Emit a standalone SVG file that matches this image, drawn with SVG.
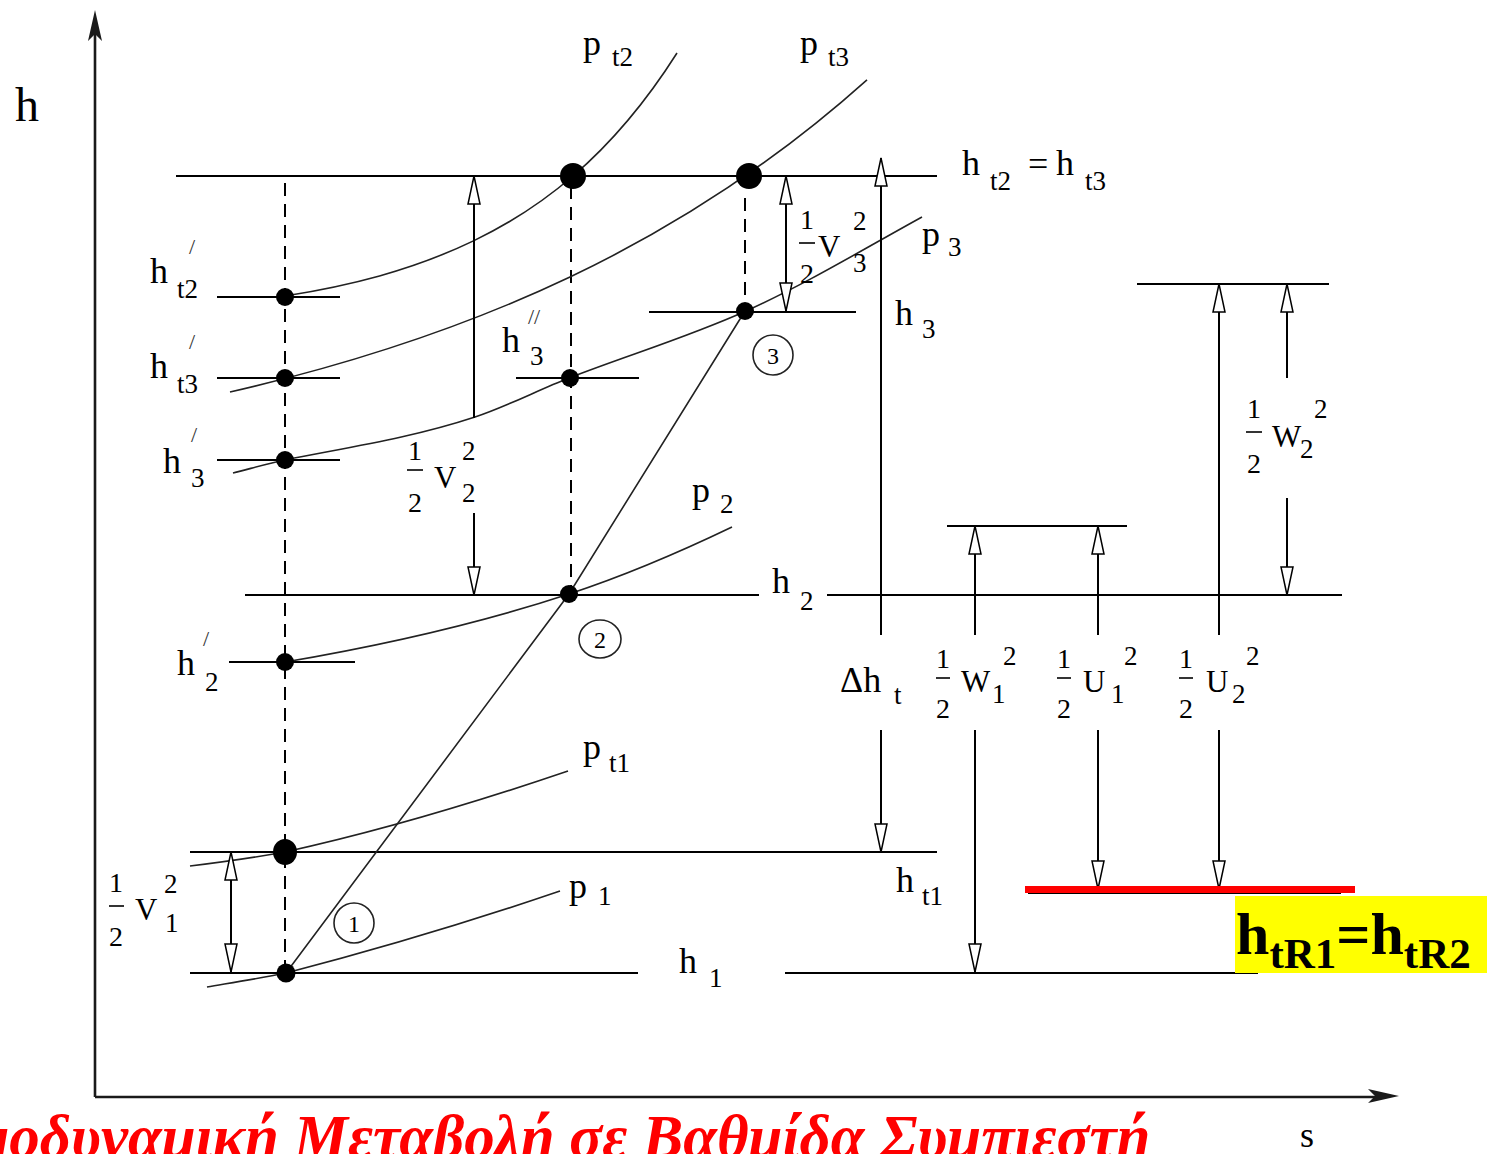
<svg xmlns="http://www.w3.org/2000/svg" width="1487" height="1154" viewBox="0 0 1487 1154">
<style>
.ln{stroke:#000;stroke-width:2;fill:none}
.ax{stroke:#1a1a1a;stroke-width:2.6;fill:none}
.cv{stroke:#222;stroke-width:1.6;fill:none}
.ds{stroke:#000;stroke-width:2;stroke-dasharray:13 8;fill:none}
.ar{stroke:#000;stroke-width:2;fill:none}
.a1{marker-end:url(#ha)}
.a2{marker-start:url(#ha);marker-end:url(#ha)}
.dot{fill:#000}
.cir{fill:none;stroke:#222;stroke-width:1.6}
text{font-family:"Liberation Serif","Times New Roman",serif;fill:#000}
.m{font-size:36px}
.s{font-size:27px}
.f{font-size:28px}
.v{font-size:31px}
.pr{font-size:22px;fill:#333}
.n{font-size:24px}
.c{text-anchor:middle}
</style>
<defs>
<marker id="ha" markerUnits="userSpaceOnUse" markerWidth="34" markerHeight="18" viewBox="-32 -9 34 18" refX="0" refY="0" orient="auto-start-reverse" overflow="visible">
<path d="M0,0 L-28,-6 L-28,6 Z" fill="#fff" stroke="#000" stroke-width="1.5"/>
</marker>
</defs>
<rect width="1487" height="1154" fill="#fff"/>

<g id="axes">
<path class="ax" d="M95,1097 V30 M95,1097 H1380"/>
<path d="M95,10 L102,41 L95,34 L88,41 Z" fill="#1a1a1a"/>
<path d="M1399,1096 L1368,1089 L1375,1096 L1368,1103 Z" fill="#1a1a1a"/>
<text x="15" y="121" style="font-size:48px">h</text>
<text x="1300" y="1147" class="m">s</text>
</g>

<g id="levels">
<path class="ln" d="M176,176 H937"/>
<path class="ln" d="M217,297 H340"/>
<path class="ln" d="M217,378 H340"/>
<path class="ln" d="M217,460 H340"/>
<path class="ln" d="M516,378 H639"/>
<path class="ln" d="M649,312 H856"/>
<path class="ln" d="M245,595 H759 M827,595 H1342"/>
<path class="ln" d="M229,662 H355"/>
<path class="ln" d="M190,852 H937"/>
<path class="ln" d="M190,973 H638 M785,973 H1258"/>
<path class="ln" d="M947,526 H1127"/>
<path class="ln" d="M1137,284 H1329"/>
<path class="ln" d="M1028,893 H1341"/>
</g>

<g id="dashed">
<path class="ds" d="M285,183 V973"/>
<path class="ds" d="M571,186 V594"/>
<path class="ds" d="M745,198 V311"/>
</g>

<g id="isobars">
<path class="cv" d="M285,296 C348,285.9 411,271 474,240.6 C507,224.7 540,204.4 573,176 C607.7,146.2 642.3,107.7 677,53"/>
<path class="cv" d="M230,392 C343.3,365.9 456.7,330.9 570,277 C669,229.9 768,168.5 867,79.8"/>
<path class="cv" d="M233,473 C250.3,468.7 267.7,463.5 285,460 C348.3,447.3 411.7,437.9 475,417 C506.3,406.7 537.7,390.2 569,378 C628,355 687,337.6 746,311 C804.7,284.6 863.3,249.3 922,217"/>
<path class="cv" d="M285,662 C379.7,645.9 474.3,625.2 569,594 C623.3,576.1 677.7,553.1 732,527"/>
<path class="cv" d="M190,866 C221.7,862.2 253.3,857.7 285,852 C379.3,831.2 473.7,803.1 568,771"/>
<path class="cv" d="M207,987 C233.3,982.5 259.7,978.3 286,973 C377.3,949.3 468.7,922.1 560,891"/>
<path class="cv" d="M286,973 L569,594 L745,311"/>
</g>

<g id="points">
<circle class="dot" cx="573" cy="176" r="13"/>
<circle class="dot" cx="749" cy="176" r="13"/>
<ellipse class="dot" cx="285" cy="852" rx="12" ry="13"/>
<circle class="dot" cx="285" cy="297" r="9"/>
<circle class="dot" cx="285" cy="378" r="9"/>
<circle class="dot" cx="285" cy="460" r="9"/>
<circle class="dot" cx="570" cy="378" r="9"/>
<circle class="dot" cx="745" cy="311" r="9"/>
<circle class="dot" cx="569" cy="594" r="9"/>
<circle class="dot" cx="285" cy="662" r="9"/>
<circle class="dot" cx="286" cy="973" r="9.5"/>
<circle class="cir" cx="354" cy="923" r="20"/>
<text x="354" y="932" class="n c">1</text>
<ellipse class="cir" cx="600" cy="639" rx="21" ry="19"/>
<text x="600" y="648" class="n c">2</text>
<circle class="cir" cx="773" cy="355" r="20"/>
<text x="773" y="364" class="n c">3</text>
</g>

<g id="arrows">
<path class="ar a1" d="M474,418 V176"/>
<path class="ar a1" d="M474,513 V595"/>
<path class="ar a2" d="M786,176 V311"/>
<path class="ar a2" d="M231,852 V972"/>
<path class="ar a1" d="M881,635 V158"/>
<path class="ar a1" d="M881,730 V852"/>
<path class="ar a1" d="M975,635 V526"/>
<path class="ar a1" d="M975,730 V972"/>
<path class="ar a1" d="M1098,635 V526"/>
<path class="ar a1" d="M1098,730 V889"/>
<path class="ar a1" d="M1219,635 V284"/>
<path class="ar a1" d="M1219,730 V889"/>
<path class="ar a1" d="M1287,378 V284"/>
<path class="ar a1" d="M1287,498 V595"/>
</g>

<g id="labels">
<text x="583" y="55" class="m">p</text><text x="612" y="66" class="s">t2</text>
<text x="800" y="55" class="m">p</text><text x="828" y="66" class="s">t3</text>
<text x="962" y="175" class="m">h</text><text x="990" y="190" class="s">t2</text><text x="1028" y="176" class="m">=</text><text x="1056" y="175" class="m">h</text><text x="1085" y="190" class="s">t3</text>
<text x="922" y="246" class="m">p</text><text x="948" y="256" class="s">3</text>
<text x="895" y="325" class="m">h</text><text x="922" y="338" class="s">3</text>
<text x="692" y="502" class="m">p</text><text x="720" y="513" class="s">2</text>
<text x="772" y="593" class="m">h</text><text x="800" y="610" class="s">2</text>
<text x="583" y="759" class="m">p</text><text x="609" y="772" class="s">t1</text>
<text x="569" y="898" class="m">p</text><text x="598" y="905" class="s">1</text>
<text x="896" y="892" class="m">h</text><text x="922" y="905" class="s">t1</text>
<text x="679" y="973" class="m">h</text><text x="709" y="987" class="s">1</text>

<text x="150" y="283" class="m">h</text><text x="177" y="298" class="s">t2</text><text x="189" y="254" class="pr">/</text>
<text x="150" y="378" class="m">h</text><text x="177" y="393" class="s">t3</text><text x="189" y="349" class="pr">/</text>
<text x="163" y="473" class="m">h</text><text x="191" y="487" class="s">3</text><text x="191" y="442" class="pr">/</text>
<text x="502" y="352" class="m">h</text><text x="530" y="365" class="s">3</text><text x="528" y="324" class="pr">//</text>
<text x="177" y="675" class="m">h</text><text x="205" y="691" class="s">2</text><text x="203" y="646" class="pr">/</text>

<text x="415" y="460" class="f c">1</text><path class="ln" d="M407,470 H423" style="stroke-width:1.6"/><text x="415" y="512" class="f c">2</text>
<text x="434" y="488" class="v">V</text><text x="462" y="460" class="s">2</text><text x="462" y="502" class="s">2</text>

<text x="807" y="229" class="f c">1</text><path class="ln" d="M799,243 H815" style="stroke-width:1.6"/><text x="807" y="283" class="f c">2</text>
<text x="818" y="257" class="v">V</text><text x="853" y="230" class="s">2</text><text x="853" y="272" class="s">3</text>

<text x="116" y="892" class="f c">1</text><path class="ln" d="M109,906 H124" style="stroke-width:1.6"/><text x="116" y="946" class="f c">2</text>
<text x="135" y="920" class="v">V</text><text x="164" y="893" class="s">2</text><text x="165" y="932" class="s">1</text>

<text x="840" y="692" class="m">Δh</text><text x="894" y="704" class="s">t</text>

<text x="943" y="668" class="f c">1</text><path class="ln" d="M936,678 H950" style="stroke-width:1.6"/><text x="943" y="718" class="f c">2</text>
<text x="961" y="692" class="v">W</text><text x="992" y="703" class="s">1</text><text x="1003" y="665" class="s">2</text>

<text x="1064" y="668" class="f c">1</text><path class="ln" d="M1057,678 H1071" style="stroke-width:1.6"/><text x="1064" y="718" class="f c">2</text>
<text x="1083" y="692" class="v">U</text><text x="1111" y="703" class="s">1</text><text x="1124" y="665" class="s">2</text>

<text x="1186" y="668" class="f c">1</text><path class="ln" d="M1179,678 H1193" style="stroke-width:1.6"/><text x="1186" y="718" class="f c">2</text>
<text x="1206" y="692" class="v">U</text><text x="1232" y="703" class="s">2</text><text x="1246" y="665" class="s">2</text>

<text x="1254" y="418" class="f c">1</text><path class="ln" d="M1246,432 H1262" style="stroke-width:1.6"/><text x="1254" y="473" class="f c">2</text>
<text x="1272" y="447" class="v">W</text><text x="1300" y="458" class="s">2</text><text x="1314" y="418" class="s">2</text>
</g>

<g id="highlight">
<rect x="1025" y="886" width="330" height="7" fill="#f00"/>
<rect x="1235" y="896" width="252" height="77" fill="#ff0"/>
<text x="1236" y="954" style="font-size:60px;font-weight:bold">h<tspan dy="14" style="font-size:43px">tR1</tspan><tspan dy="-14">=h</tspan><tspan dy="14" style="font-size:43px">tR2</tspan></text>
</g>

<g id="caption">
<text x="1150" y="1157" text-anchor="end" style="font-size:61px;font-weight:bold;font-style:italic;fill:#f00">μοδυναμική Μεταβολή σε Βαθμίδα Συμπιεστή</text>
</g>
</svg>
